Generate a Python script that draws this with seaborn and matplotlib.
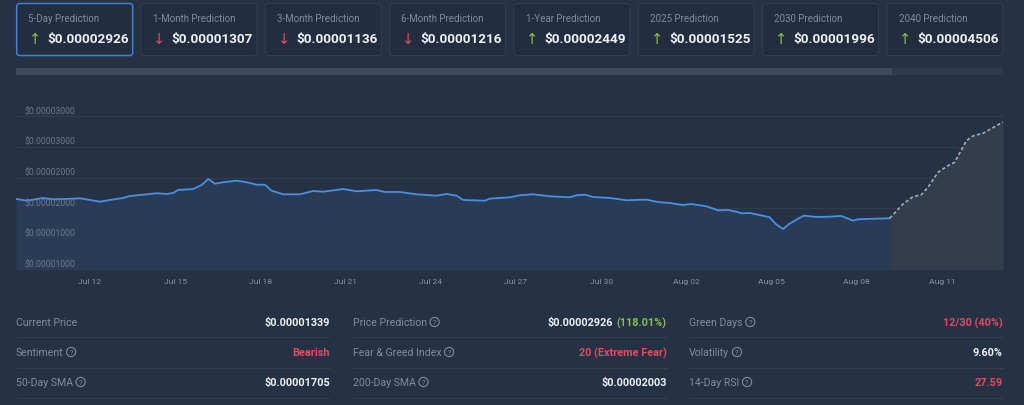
import numpy as np
import pandas as pd
import matplotlib
matplotlib.use("Agg")
import matplotlib.pyplot as plt
import matplotlib.transforms as mtransforms
from matplotlib.patches import FancyBboxPatch, Rectangle, Circle
import seaborn as sns

# ---------------- data ----------------
hist_time = [
    "2024-07-09 09:30", "2024-07-09 18:40", "2024-07-10 08:30", "2024-07-10 17:00",
    "2024-07-11 04:20", "2024-07-11 15:30", "2024-07-12 00:00", "2024-07-12 08:30",
    "2024-07-12 17:00", "2024-07-13 04:00", "2024-07-13 10:00", "2024-07-13 21:00",
    "2024-07-14 08:20", "2024-07-14 16:50", "2024-07-14 22:20", "2024-07-15 02:35",
    "2024-07-15 15:15", "2024-07-15 22:20", "2024-07-16 04:00", "2024-07-16 09:36",
    "2024-07-16 16:36", "2024-07-17 04:00", "2024-07-17 12:24", "2024-07-17 20:50",
    "2024-07-18 03:50", "2024-07-18 09:30", "2024-07-18 19:18", "2024-07-19 09:24",
    "2024-07-19 20:38", "2024-07-20 05:05", "2024-07-20 17:45", "2024-07-20 22:00",
    "2024-07-21 09:20", "2024-07-22 02:12", "2024-07-22 09:12", "2024-07-22 21:53",
    "2024-07-23 12:00", "2024-07-24 04:52", "2024-07-24 13:20", "2024-07-24 21:46",
    "2024-07-25 03:22", "2024-07-25 21:40", "2024-07-26 02:00", "2024-07-26 18:50",
    "2024-07-27 03:15", "2024-07-27 14:30", "2024-07-28 04:36", "2024-07-28 21:30",
    "2024-07-29 03:09", "2024-07-29 10:09", "2024-07-29 17:10", "2024-07-30 07:16",
    "2024-07-30 21:23", "2024-07-31 14:17", "2024-08-01 00:05", "2024-08-01 10:00",
    "2024-08-01 21:12", "2024-08-02 04:18", "2024-08-02 17:00", "2024-08-03 02:45",
    "2024-08-03 11:12", "2024-08-03 18:18", "2024-08-03 22:32", "2024-08-04 05:32",
    "2024-08-04 12:33", "2024-08-04 22:26", "2024-08-05 03:30", "2024-08-05 09:40",
    "2024-08-05 14:44", "2024-08-05 21:00", "2024-08-06 03:10", "2024-08-06 13:54",
    "2024-08-07 01:08", "2024-08-07 11:00", "2024-08-07 20:48", "2024-08-08 01:02",
    "2024-08-08 16:35", "2024-08-09 03:49",
]
hist_price = [
    1.923e-5, 1.900e-5, 1.936e-5, 1.919e-5, 1.923e-5, 1.932e-5, 1.910e-5, 1.887e-5,
    1.910e-5, 1.936e-5, 1.962e-5, 1.979e-5, 1.997e-5, 1.988e-5, 2.001e-5, 2.040e-5,
    2.053e-5, 2.105e-5, 2.184e-5, 2.122e-5, 2.141e-5, 2.161e-5, 2.141e-5, 2.109e-5,
    2.109e-5, 2.031e-5, 1.984e-5, 1.984e-5, 2.027e-5, 2.018e-5, 2.044e-5, 2.053e-5,
    2.023e-5, 2.040e-5, 2.014e-5, 2.014e-5, 1.984e-5, 1.966e-5, 1.988e-5, 1.966e-5,
    1.910e-5, 1.900e-5, 1.927e-5, 1.945e-5, 1.971e-5, 1.984e-5, 1.958e-5, 1.945e-5,
    1.971e-5, 1.979e-5, 1.949e-5, 1.936e-5, 1.906e-5, 1.914e-5, 1.883e-5, 1.870e-5,
    1.844e-5, 1.857e-5, 1.827e-5, 1.775e-5, 1.779e-5, 1.757e-5, 1.736e-5, 1.740e-5,
    1.718e-5, 1.684e-5, 1.596e-5, 1.531e-5, 1.596e-5, 1.653e-5, 1.705e-5, 1.688e-5,
    1.692e-5, 1.701e-5, 1.640e-5, 1.658e-5, 1.666e-5, 1.671e-5,
]
pred_time = [
    "2024-08-09 03:49", "2024-08-09 15:03", "2024-08-09 23:30", "2024-08-10 06:36",
    "2024-08-10 12:10", "2024-08-10 20:37", "2024-08-11 05:04", "2024-08-11 10:44",
    "2024-08-11 20:37", "2024-08-12 02:11", "2024-08-12 10:38", "2024-08-13 03:32",
]
pred_price = [
    1.671e-5, 1.857e-5, 1.953e-5, 1.979e-5, 2.075e-5, 2.271e-5, 2.357e-5, 2.402e-5,
    2.683e-5, 2.745e-5, 2.780e-5, 2.926e-5,
]
ytick_values = [1.0e-5, 1.4e-5, 1.8e-5, 2.2e-5, 2.6e-5, 3.0e-5]
ytick_labels = ["$0.00001000", "$0.00001000", "$0.00002000",
                "$0.00002000", "$0.00003000", "$0.00003000"]
xtick_dates = ["2024-07-12", "2024-07-15", "2024-07-18", "2024-07-21", "2024-07-24",
               "2024-07-27", "2024-07-30", "2024-08-02", "2024-08-05", "2024-08-08",
               "2024-08-11"]
xtick_labels = ["Jul 12", "Jul 15", "Jul 18", "Jul 21", "Jul 24", "Jul 27", "Jul 30",
                "Aug 02", "Aug 05", "Aug 08", "Aug 11"]

current_price = 0.00001339
card_titles = ["5-Day Prediction", "1-Month Prediction", "3-Month Prediction",
               "6-Month Prediction", "1-Year Prediction", "2025 Prediction",
               "2030 Prediction", "2040 Prediction"]
card_values = [0.00002926, 0.00001307, 0.00001136, 0.00001216,
               0.00002449, 0.00001525, 0.00001996, 0.00004506]

stat_labels = [["Current Price", "Sentiment", "50-Day SMA"],
               ["Price Prediction", "Fear & Greed Index", "200-Day SMA"],
               ["Green Days", "Volatility", "14-Day RSI"]]
stat_help = [[False, True, True], [True, True, True], [True, True, True]]
stat_values = [["$0.00001339", "Bearish", "$0.00001705"],
               ["$0.00002926", "20 (Extreme Fear)", "$0.00002003"],
               ["12/30 (40%)", "9.60%", "27.59"]]
stat_colors = [["w", "r", "w"], ["w", "r", "w"], ["r", "w", "r"]]
pred_change_text = "(118.01%)"

# ---------------- style ----------------
BG = "#253144"
CARD = "#222d3f"
BORDER = "#313d50"
HILITE = "#3b82d4"
BLUE = "#4a90e2"
HIST_FILL = "#2a3c55"
PRED_FILL = "#333d4d"
PRED_LINE = "#a8adb5"
GRID = "#303c4f"
TXT = "#eef1f5"
LABEL = "#808d9f"
TICK = "#6d7a8e"
XTICK = "#8793a5"
RED = "#e54a5f"
GREEN = "#86c04a"
BAR_LIGHT = "#404a5b"
BAR_DARK = "#2f3a4b"

sns.set_style("dark", rc={"axes.facecolor": BG, "figure.facecolor": BG})
plt.rcParams["font.family"] = ["Roboto", "DejaVu Sans"]

W, H = 1024, 406
fig = plt.figure(figsize=(W / 100, H / 100), dpi=100, facecolor=BG)

# overlay axes in pixel coordinates for cards and table
ov = fig.add_axes([0, 0, 1, 1], zorder=0)
ov.set_xlim(0, W)
ov.set_ylim(H, 0)
ov.axis("off")

# ---------------- chart ----------------
ax_top, ax_bot, ax_left, ax_right = 100.0, 270.7, 16.0, 1003.0
ax = fig.add_axes([ax_left / W, 1 - ax_bot / H, (ax_right - ax_left) / W,
                   (ax_bot - ax_top) / H], zorder=1)
ax.set_facecolor(BG)

hist = pd.DataFrame({"time": pd.to_datetime(hist_time), "price": hist_price})
pred = pd.DataFrame({"time": pd.to_datetime(pred_time), "price": pred_price})

ymin = ytick_values[0]
ymax = ymin + (ytick_values[-1] - ymin) * (ax_bot - ax_top) / (ax_bot - 117.4)

ax.fill_between(hist["time"], hist["price"], ymin, color=HIST_FILL, lw=0, zorder=1)
ax.fill_between(pred["time"], pred["price"], ymin, color=PRED_FILL, lw=0, zorder=1)
sns.lineplot(data=hist, x="time", y="price", ax=ax, color=BLUE, lw=1.3, zorder=3)
sns.lineplot(data=pred, x="time", y="price", ax=ax, color=PRED_LINE, lw=1.2,
             linestyle=(0, (2.0, 1.4)), zorder=3)

ax.set_xlim(hist["time"].min(), pred["time"].max())
ax.set_ylim(ymin, ymax)
ax.set_yticks(ytick_values)
ax.set_yticklabels([])
ax.yaxis.grid(True, color=GRID, lw=0.9)
ax.xaxis.grid(False)
ax.set_axisbelow(True)
ax.tick_params(axis="y", length=0, pad=0)
ax.set_xticks(pd.to_datetime(xtick_dates))
ax.set_xticklabels(xtick_labels)
ax.tick_params(axis="x", length=0, pad=6, labelsize=6.1, labelcolor=XTICK)
ax.set_xlabel("")
ax.set_ylabel("")
for s in ax.spines.values():
    s.set_visible(False)

trans = mtransforms.blended_transform_factory(ax.transAxes, ax.transData)
lab_x = (24 - ax_left) / (ax_right - ax_left)
for v, lbl in zip(ytick_values, ytick_labels):
    ax.annotate(lbl, xy=(lab_x, v), xycoords=trans, xytext=(0, 1.2),
                textcoords="offset points", ha="left", va="bottom",
                fontsize=6.2, color=TICK, zorder=4)

# ---------------- cards ----------------
for i, (title, val) in enumerate(zip(card_titles, card_values)):
    x0 = 16.7 + 124.3 * i
    hl = i == 0
    ov.add_patch(FancyBboxPatch((x0, 4.5), 116, 52,
                                boxstyle="round,pad=0,rounding_size=3",
                                fc=CARD, ec=HILITE if hl else BORDER,
                                lw=1.1 if hl else 0.8))
    ov.text(x0 + 11.7, 19.5, title, fontsize=7, color=LABEL, ha="left", va="center")
    up = val >= current_price
    ov.text(x0 + 18.5, 40, "↑" if up else "↓", fontsize=10.5,
            color=GREEN if up else RED, ha="center", va="center",
            family=["DejaVu Sans"])
    ov.text(x0 + 30.7, 39.5, "$" + f"{val:.8f}", fontsize=9.7, fontweight="bold",
            color=TXT, ha="left", va="center")

# progress bar
ov.add_patch(Rectangle((16, 69.3), 876, 6.7, fc=BAR_LIGHT, lw=0))
ov.add_patch(Rectangle((892, 69.3), 111, 6.7, fc=BAR_DARK, lw=0))

# ---------------- stats table ----------------
col_label_x = [16, 353, 689.3]
col_value_r = [330, 666.7, 1002.7]
row_y = [323, 353, 383]
sep_y = [338.3, 368.7, 399]
cmap = {"w": TXT, "r": RED}
renderer = fig.canvas.get_renderer()

for c in range(3):
    for r in range(3):
        y = row_y[r]
        t = ov.text(col_label_x[c], y, stat_labels[c][r], fontsize=7.6, color=LABEL,
                    ha="left", va="center")
        if stat_help[c][r]:
            bb = t.get_window_extent(renderer=renderer)
            cx = bb.x1 + 7.5
            ov.add_patch(Circle((cx, y), 4.6, fill=False, ec=LABEL, lw=0.8))
            ov.text(cx, y + 0.3, "?", fontsize=5.5, color=LABEL, ha="center",
                    va="center")
        vcol = cmap[stat_colors[c][r]]
        if c == 1 and r == 0:
            ov.text(col_value_r[c], y, pred_change_text, fontsize=7.8,
                    fontweight="bold", color=GREEN, ha="right", va="center")
            ov.text(613.3, y, stat_values[c][r], fontsize=7.8, fontweight="bold",
                    color=vcol, ha="right", va="center")
        else:
            ov.text(col_value_r[c], y, stat_values[c][r], fontsize=7.8,
                    fontweight="bold", color=vcol, ha="right", va="center")
        ov.plot([col_label_x[c], col_value_r[c]], [sep_y[r], sep_y[r]],
                color=GRID, lw=0.8)

fig.savefig("out.png", dpi=100, facecolor=BG)
